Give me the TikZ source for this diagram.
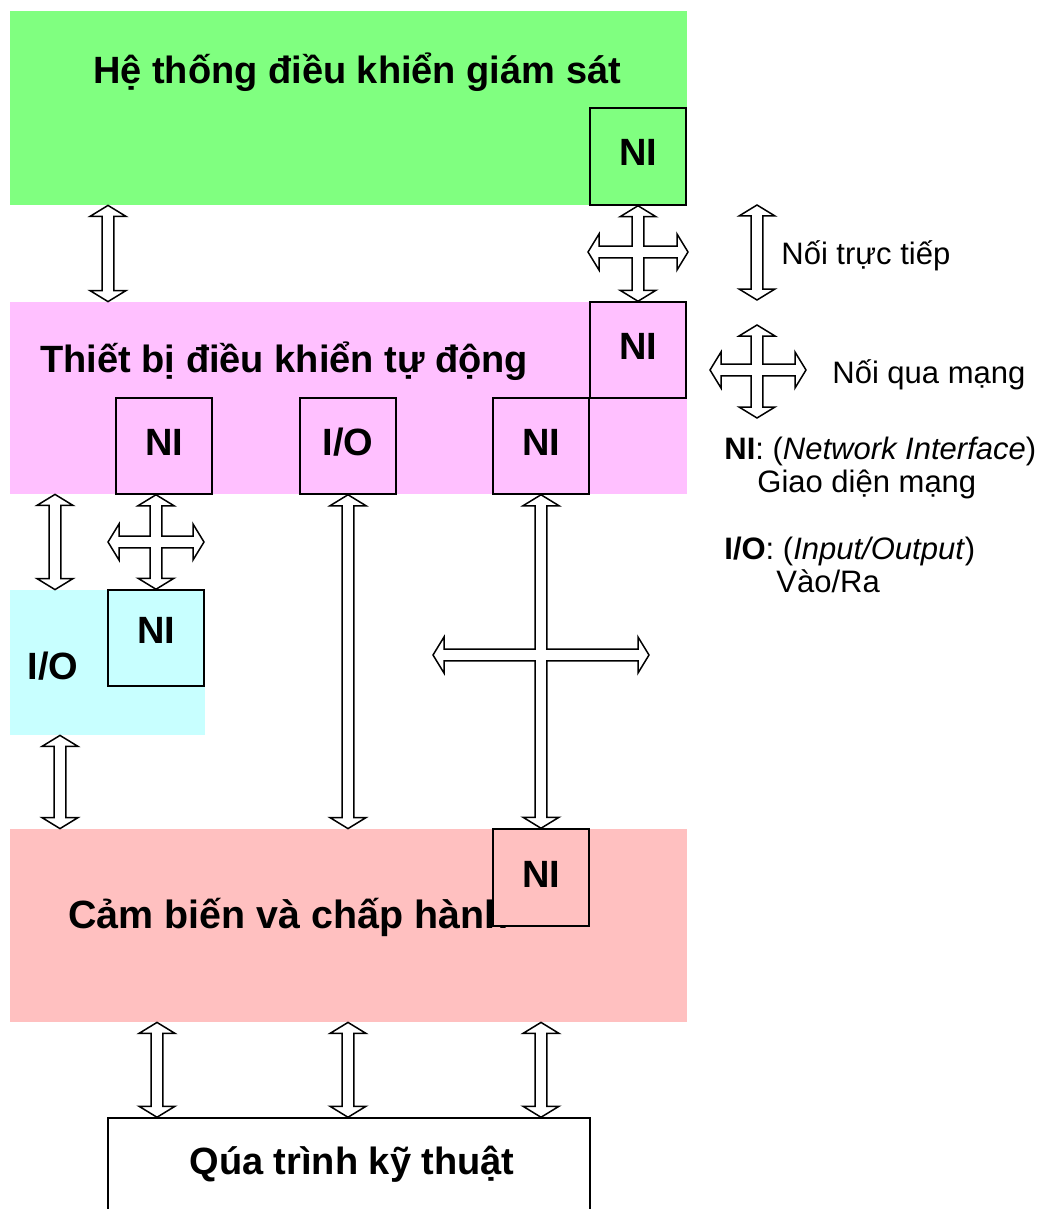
\documentclass[tikz,border=0pt]{standalone}
\usepackage{fontspec}
\setmainfont{Liberation Sans}
\usetikzlibrary{calc,fit}
\definecolor{supgreen}{HTML}{80FF80}
\definecolor{ctlpink}{HTML}{FFC0FF}
\definecolor{iocyan}{HTML}{C8FFFF}
\definecolor{senred}{HTML}{FFC0C0}
\newcommand\layerfont{\bfseries\fontsize{19}{23}\selectfont}
\newcommand\legendfont{\fontsize{15.5}{19}\selectfont}
% block arrow geometry: shaft half-width, head half-width, head length
\newcommand\shaftHW{2.9pt}
\newcommand\headHW{9pt}
\newcommand\headLen{5.5pt}
% vertical double block arrow: #1 upper tip, #2 lower tip
\newcommand\vdbl[2]{%
  \draw[blockarrow] let \p1=(#1), \p2=(#2) in
    (\x1,\y1) -- (\x1+\headHW,\y1-\headLen) -- (\x1+\shaftHW,\y1-\headLen)
    -- (\x1+\shaftHW,\y2+\headLen) -- (\x1+\headHW,\y2+\headLen) -- (\x1,\y2)
    -- (\x1-\headHW,\y2+\headLen) -- (\x1-\shaftHW,\y2+\headLen)
    -- (\x1-\shaftHW,\y1-\headLen) -- (\x1-\headHW,\y1-\headLen) -- cycle;}
% four-way block arrow: #1 upper tip, #2 lower tip, #3 left tip, #4 right tip
\newcommand\xarrow[4]{%
  \draw[blockarrow] let \p1=(#1), \p2=(#2), \p3=(#3), \p4=(#4) in
    (\x1,\y1) -- (\x1+\headHW,\y1-\headLen) -- (\x1+\shaftHW,\y1-\headLen)
    -- (\x1+\shaftHW,\y3+\shaftHW) -- (\x4-\headLen,\y3+\shaftHW)
    -- (\x4-\headLen,\y3+\headHW) -- (\x4,\y3) -- (\x4-\headLen,\y3-\headHW)
    -- (\x4-\headLen,\y3-\shaftHW) -- (\x1+\shaftHW,\y3-\shaftHW)
    -- (\x1+\shaftHW,\y2+\headLen) -- (\x1+\headHW,\y2+\headLen) -- (\x1,\y2)
    -- (\x1-\headHW,\y2+\headLen) -- (\x1-\shaftHW,\y2+\headLen)
    -- (\x1-\shaftHW,\y3-\shaftHW) -- (\x3+\headLen,\y3-\shaftHW)
    -- (\x3+\headLen,\y3-\headHW) -- (\x3,\y3) -- (\x3+\headLen,\y3+\headHW)
    -- (\x3+\headLen,\y3+\shaftHW) -- (\x1-\shaftHW,\y3+\shaftHW)
    -- (\x1-\shaftHW,\y1-\headLen) -- (\x1-\headHW,\y1-\headLen) -- cycle;}

\begin{document}
\begin{tikzpicture}[x=0.5pt,y=-0.5pt,
  layer/.style={inner sep=0pt,draw=none},
  unitbox/.style={inner sep=0pt,draw=black,line width=0.75pt},
  unitlbl/.style={font=\layerfont,inner sep=0pt,anchor=base},
  blockarrow/.style={draw=black,fill=white,line width=0.75pt,line join=miter},
  title/.style={font=\layerfont,inner sep=0pt,anchor=base},
  legend/.style={font=\legendfont,inner sep=0pt,anchor=base west}]
\useasboundingbox (0,0) rectangle (1048,1209);
\clip (0,0) rectangle (1048,1209);

% supervisory level
\node[layer,fill=supgreen,fit={(10,11)(687,205)}] (green) {};
\node[title] (greentxt) at (357,84) {Hệ thống điều khiển giám sát};
\node[unitbox,fill=supgreen,fit={(590,108)(686,205)}] (greenNI) {};
\node[unitlbl] (greenNIt) at ($(greenNI.center)+(0,9.5)$) {NI};

% automatic control devices
\node[layer,fill=ctlpink,fit={(10,302)(687,494)}] (pink) {};
\node[title,anchor=base west] (pinktxt) at (40,372) {Thiết bị điều khiển tự động};
\node[unitbox,fill=ctlpink,fit={(590,302)(686,398)}] (pinkNIr) {};
\node[unitlbl] (pinkNIrt) at ($(pinkNIr.center)+(0,9.5)$) {NI};
\node[unitbox,fill=ctlpink,fit={(116,398)(212,494)}] (pinkNI1) {};
\node[unitlbl] (pinkNI1t) at ($(pinkNI1.center)+(0,9.5)$) {NI};
\node[unitbox,fill=ctlpink,fit={(300,398)(396,494)}] (pinkIO) {};
\node[unitlbl] (pinkIOt) at ($(pinkIO.center)+(0,9.5)$) {I/O};
\node[unitbox,fill=ctlpink,fit={(493,398)(589,494)}] (pinkNI2) {};
\node[unitlbl] (pinkNI2t) at ($(pinkNI2.center)+(0,9.5)$) {NI};

% remote I/O
\node[layer,fill=iocyan,fit={(10,590)(205,735)}] (cyan) {};
\node[title] (cyantxt) at (53,679) {I/O};
\node[unitbox,fill=iocyan,fit={(108,590)(204,686)}] (cyanNI) {};
\node[unitlbl] (cyanNIt) at ($(cyanNI.center)+(0,5)$) {NI};

% sensors and actuators
\node[layer,fill=senred,fit={(10,829)(687,1022)}] (red) {};
\node[title,anchor=base west,font=\bfseries\fontsize{19.7}{23}\selectfont] (redtxt) at (68,928) {Cảm biến và chấp hành};
\node[unitbox,fill=senred,fit={(493,829)(589,926)}] (redNI) {};
\node[unitlbl] (redNIt) at ($(redNI.center)+(0,9.5)$) {NI};

% technical process
\node[unitbox,fill=white,fit={(108,1118)(590,1240)}] (proc) {};
\node[title] (proctxt) at (352,1174) {Qúa trình kỹ thuật};

% connections between levels
\vdbl{108,0 |- green.south}{108,0 |- pink.north}
\coordinate (ga) at (588,252);
\coordinate (gb) at (688,252);
\xarrow{greenNI.south}{pinkNIr.north}{ga}{gb}

\vdbl{55,0 |- pink.south}{55,0 |- cyan.north}
\coordinate (ca) at (108,542);
\coordinate (cb) at (204,542);
\xarrow{cyanNI.north |- pinkNI1.south}{cyanNI.north}{ca}{cb}

\vdbl{60,0 |- cyan.south}{60,0 |- red.north}
\vdbl{pinkIO.south}{pinkIO.south |- red.north}
\coordinate (fa) at (433,655);
\coordinate (fb) at (649,655);
\xarrow{pinkNI2.south}{redNI.north}{fa}{fb}

\vdbl{157,0 |- red.south}{157,0 |- proc.north}
\vdbl{348,0 |- red.south}{348,0 |- proc.north}
\vdbl{541,0 |- red.south}{541,0 |- proc.north}

% legend
\coordinate (la) at (757,205);
\coordinate (lb) at (757,300);
\vdbl{la}{lb}
\node[legend] (ltxt1) at (781,264) {Nối trực tiếp};
\coordinate (lc) at (757,325);
\coordinate (ld) at (757,418);
\coordinate (le) at (710,370);
\coordinate (lf) at (806,370);
\xarrow{lc}{ld}{le}{lf}
\node[legend] (ltxt2) at (832,383) {Nối qua mạng};
\node[legend] (ltxt3) at (724,459) {\textbf{NI}: (\textit{Network Interface})};
\node[legend] (ltxt4) at (757,492) {Giao diện mạng};
\node[legend] (ltxt5) at (724,559) {\textbf{I/O}: (\textit{Input/Output})};
\node[legend] (ltxt6) at (776,592) {Vào/Ra};
\end{tikzpicture}
\end{document}
